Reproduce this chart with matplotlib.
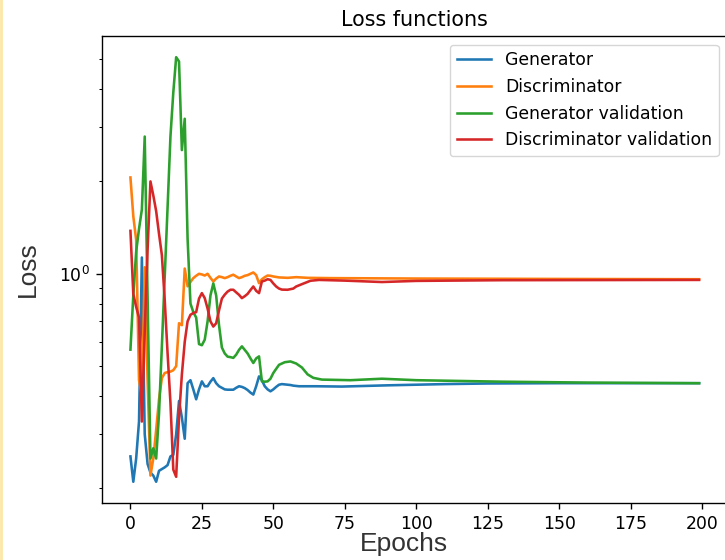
import matplotlib
matplotlib.use("Agg")
import matplotlib.pyplot as plt
from matplotlib.lines import Line2D

# values (log-scale losses per epoch)
gen_epochs = [0, 1, 2, 3, 4, 5, 6, 7, 8, 9, 10, 11, 12, 13, 14, 15, 16, 17, 18, 19,
              20, 21, 22, 23, 24, 25, 26, 27, 28, 29, 30, 31, 32, 33, 34, 35, 36, 37, 38, 39,
              40, 41, 42, 43, 44, 45, 46, 47, 48, 49, 50, 51, 52, 53, 54, 55, 56, 57, 58, 59,
              65, 74, 90, 110, 125, 150, 175, 199]
gen_loss = [0.254, 0.21, 0.25, 0.33, 1.13, 0.30, 0.24, 0.225, 0.22, 0.21, 0.228, 0.231, 0.234, 0.238,
            0.254, 0.257, 0.30, 0.385, 0.34, 0.29, 0.44, 0.45, 0.42, 0.39, 0.42, 0.446, 0.43, 0.43,
            0.445, 0.457, 0.44, 0.43, 0.425, 0.42, 0.419, 0.419, 0.419, 0.425, 0.43, 0.428, 0.424,
            0.418, 0.41, 0.404, 0.43, 0.463, 0.45, 0.43, 0.42, 0.414, 0.42, 0.428, 0.435, 0.437,
            0.436, 0.435, 0.434, 0.432, 0.431, 0.43, 0.43, 0.429, 0.433, 0.437, 0.439, 0.44, 0.44, 0.44]

disc_epochs = [0, 1, 2, 3, 4, 5, 6, 7, 8, 9, 10, 11, 12, 13, 14, 15, 16, 17, 18, 19,
               20, 21, 22, 23, 24, 25, 26, 27, 28, 29, 30, 31, 32, 33, 34, 35, 36, 37, 38, 39,
               40, 41, 42, 43, 44, 45, 46, 47, 48, 49, 50, 52, 55, 58, 62, 70, 100, 150, 199]
disc_loss = [2.06, 1.54, 1.29, 0.45, 0.40, 1.05, 0.45, 0.22, 0.25, 0.31, 0.39, 0.457, 0.475, 0.478,
             0.48, 0.485, 0.50, 0.69, 0.68, 1.04, 0.91, 0.94, 0.968, 0.985, 1.0, 0.995, 0.987, 1.0,
             0.97, 0.944, 0.965, 0.98, 0.975, 0.968, 0.975, 0.985, 0.993, 0.98, 0.968, 0.975, 0.985,
             0.99, 1.0, 1.01, 0.99, 0.932, 0.96, 0.975, 0.987, 0.985, 0.98, 0.973, 0.97, 0.975,
             0.97, 0.968, 0.965, 0.962, 0.96]

genval_epochs = [0, 1, 2, 3, 4, 5, 6, 7, 8, 9, 10, 11, 12, 13, 14, 15, 16, 17, 18, 19,
                 20, 21, 22, 23, 24, 25, 26, 27, 28, 29, 30, 31, 32, 33, 34, 35, 36, 37, 38, 39,
                 40, 41, 42, 43, 44, 45, 46, 47, 48, 49, 50, 51, 52, 54, 56, 58, 60, 62, 64, 67,
                 77, 88, 100, 130, 160, 199]
genval_loss = [0.566, 0.85, 1.18, 1.40, 1.62, 2.8, 0.84, 0.25, 0.27, 0.25, 0.35, 0.58, 0.98, 1.65,
               2.8, 3.9, 5.08, 4.92, 2.53, 3.2, 1.3, 0.8, 0.75, 0.72, 0.59, 0.585, 0.61, 0.70, 0.85,
               0.93, 0.85, 0.68, 0.575, 0.55, 0.537, 0.535, 0.532, 0.545, 0.565, 0.58, 0.565, 0.55,
               0.53, 0.512, 0.53, 0.538, 0.446, 0.445, 0.446, 0.455, 0.475, 0.49, 0.505, 0.515,
               0.518, 0.51, 0.495, 0.47, 0.458, 0.452, 0.45, 0.455, 0.45, 0.445, 0.442, 0.44]

discval_epochs = [0, 1, 2, 3, 4, 5, 6, 7, 8, 9, 10, 11, 12, 13, 14, 15, 16, 17, 18, 19,
                  20, 21, 22, 23, 24, 25, 26, 27, 28, 29, 30, 31, 32, 33, 34, 35, 36, 37, 38, 39,
                  40, 41, 42, 43, 44, 45, 46, 47, 48, 49, 50, 51, 52, 53, 55, 57, 58, 60, 63, 66,
                  75, 88, 100, 130, 199]
discval_loss = [1.38, 0.86, 0.78, 0.72, 0.33, 0.65, 1.2, 2.0, 1.8, 1.6, 1.35, 1.15, 0.82, 0.55,
                0.38, 0.23, 0.218, 0.34, 0.47, 0.60, 0.70, 0.735, 0.745, 0.75, 0.83, 0.865, 0.833,
                0.77, 0.70, 0.673, 0.69, 0.76, 0.83, 0.855, 0.875, 0.887, 0.887, 0.87, 0.854, 0.833,
                0.845, 0.86, 0.885, 0.909, 0.88, 0.865, 0.944, 0.95, 0.96, 0.955, 0.93, 0.909, 0.895,
                0.888, 0.887, 0.895, 0.909, 0.925, 0.949, 0.955, 0.95, 0.94, 0.948, 0.953, 0.955]

s = 1.24  # picture is a default matplotlib figure scaled up a bit

fig = plt.figure(figsize=(7.25, 5.6), dpi=100)
ax = fig.add_axes([0.1407, 0.1018, 0.8628, 0.834])

ax.plot(gen_epochs, gen_loss, lw=1.5 * s, label="Generator")
ax.plot(disc_epochs, disc_loss, lw=1.5 * s, label="Discriminator")
ax.plot(genval_epochs, genval_loss, lw=1.5 * s, label="Generator validation")
ax.plot(discval_epochs, discval_loss, lw=1.5 * s, label="Discriminator validation")
ax.set_yscale("log")

ax.set_title("Loss functions", fontsize=12 * s, pad=6 * s)
ax.tick_params(which="major", labelsize=10 * s, length=3.5 * s, width=0.8 * s, pad=3.5 * s)
ax.tick_params(which="minor", length=2 * s, width=0.6 * s)
for sp in ax.spines.values():
    sp.set_linewidth(0.8 * s)
ax.legend(loc="upper right", fontsize=10 * s)

fig.text(0.557, 0.029, "Epochs", ha="center", va="center",
         family="Liberation Sans", fontsize=19, color="#333333")
fig.text(0.0386, 0.519, "Loss", ha="center", va="center", rotation=90,
         family="Liberation Sans", fontsize=19, color="#333333")

# thin yellow frame line at the left edge of the screenshot
fig.add_artist(Line2D([0.002, 0.002], [0, 1], transform=fig.transFigure,
                      color="#fde7a4", lw=2))

fig.savefig("out.png", dpi=100)
